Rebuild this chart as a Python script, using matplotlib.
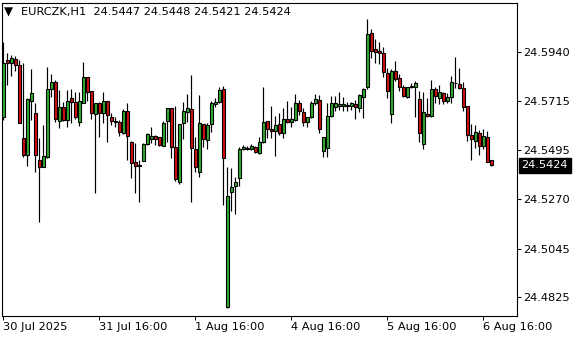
import numpy as np
import matplotlib
matplotlib.use("Agg")
import matplotlib.pyplot as plt

# EURCZK H1 candles, 30 Jul 16:00 .. 6 Aug 18:00
opens = [
    24.5643, 24.5903, 24.5891, 24.5907, 24.5881, 24.5547, 24.5471, 24.5718, 24.5661, 24.5448,
    24.5418, 24.5461, 24.5770, 24.5802, 24.5624, 24.5688, 24.5630, 24.5729, 24.5711, 24.5620,
    24.5709, 24.5825, 24.5762, 24.5658, 24.5706, 24.5661, 24.5718, 24.5645, 24.5620, 24.5620,
    24.5573, 24.5671, 24.5532, 24.5438, 24.5422, 24.5444, 24.5521, 24.5545, 24.5558, 24.5552,
    24.5513, 24.5627, 24.5684, 24.5506, 24.5350, 24.5615, 24.5668, 24.5679, 24.5498, 24.5392,
    24.5611, 24.5539, 24.5611, 24.5705, 24.5711, 24.5770, 24.4778, 24.5304, 24.5331, 24.5365,
    24.5497, 24.5497, 24.5497, 24.5508, 24.5479, 24.5529, 24.5626, 24.5588, 24.5582, 24.5611,
    24.5573, 24.5634, 24.5620, 24.5630, 24.5706, 24.5668, 24.5620, 24.5645, 24.5709, 24.5721,
    24.5491, 24.5502, 24.5649, 24.5691, 24.5695, 24.5694, 24.5694, 24.5695, 24.5703, 24.5686,
    24.5734, 24.5779, 24.6025, 24.5953, 24.5944, 24.5934, 24.5843, 24.5656, 24.5853, 24.5820,
    24.5779, 24.5734, 24.5786, 24.5782, 24.5726, 24.5520, 24.5658, 24.5650, 24.5771, 24.5729,
    24.5752, 24.5718, 24.5736, 24.5797, 24.5793, 24.5775, 24.5695, 24.5562, 24.5536, 24.5570,
    24.5513, 24.5554, 24.5447,
]
highs = [
    24.5987, 24.5934, 24.5926, 24.5922, 24.5903, 24.5891, 24.5730, 24.5861, 24.5706, 24.5547,
    24.5608, 24.5870, 24.5840, 24.5812, 24.5767, 24.5714, 24.5767, 24.5770, 24.5759, 24.5759,
    24.5894, 24.5826, 24.5763, 24.5707, 24.5714, 24.5756, 24.5719, 24.5664, 24.5643, 24.5630,
    24.5679, 24.5706, 24.5533, 24.5524, 24.5448, 24.5527, 24.5573, 24.5600, 24.5562, 24.5555,
    24.5626, 24.5685, 24.5685, 24.5694, 24.5613, 24.5714, 24.5747, 24.5835, 24.5554, 24.5744,
    24.5612, 24.5618, 24.5717, 24.5729, 24.5782, 24.5785, 24.5415, 24.5411, 24.5372, 24.5506,
    24.5517, 24.5513, 24.5521, 24.5510, 24.5554, 24.5782, 24.5627, 24.5694, 24.5649, 24.5664,
    24.5684, 24.5717, 24.5688, 24.5749, 24.5721, 24.5684, 24.5644, 24.5718, 24.5749, 24.5744,
    24.5553, 24.5706, 24.5741, 24.5741, 24.5756, 24.5736, 24.5714, 24.5714, 24.5721, 24.5749,
    24.5777, 24.6090, 24.6043, 24.5998, 24.5984, 24.5964, 24.5866, 24.5862, 24.5899, 24.5838,
    24.5790, 24.5782, 24.5797, 24.5808, 24.5762, 24.5759, 24.5732, 24.5812, 24.5782, 24.5790,
    24.5759, 24.5752, 24.5832, 24.5918, 24.5868, 24.5805, 24.5696, 24.5611, 24.5608, 24.5585,
    24.5589, 24.5580, 24.5448,
]
lows = [
    24.5630, 24.5790, 24.5831, 24.5855, 24.5615, 24.5463, 24.5421, 24.5630, 24.5395, 24.5168,
    24.5418, 24.5458, 24.5736, 24.5623, 24.5593, 24.5628, 24.5597, 24.5618, 24.5634, 24.5603,
    24.5706, 24.5717, 24.5635, 24.5300, 24.5552, 24.5615, 24.5532, 24.5608, 24.5600, 24.5559,
    24.5567, 24.5448, 24.5365, 24.5300, 24.5259, 24.5443, 24.5517, 24.5524, 24.5517, 24.5512,
    24.5512, 24.5532, 24.5456, 24.5354, 24.5339, 24.5544, 24.5623, 24.5259, 24.5395, 24.5372,
    24.5509, 24.5498, 24.5577, 24.5691, 24.5706, 24.5244, 24.4776, 24.5218, 24.5201, 24.5331,
    24.5494, 24.5494, 24.5494, 24.5481, 24.5478, 24.5528, 24.5547, 24.5547, 24.5467, 24.5562,
    24.5547, 24.5615, 24.5600, 24.5626, 24.5653, 24.5603, 24.5597, 24.5638, 24.5699, 24.5570,
    24.5463, 24.5463, 24.5646, 24.5671, 24.5676, 24.5671, 24.5671, 24.5676, 24.5634, 24.5668,
    24.5638, 24.5771, 24.5914, 24.5888, 24.5885, 24.5827, 24.5729, 24.5615, 24.5808, 24.5762,
    24.5736, 24.5729, 24.5777, 24.5645, 24.5529, 24.5498, 24.5645, 24.5645, 24.5706, 24.5702,
    24.5702, 24.5706, 24.5709, 24.5775, 24.5771, 24.5671, 24.5535, 24.5448, 24.5502, 24.5471,
    24.5498, 24.5438, 24.5421,
]
closes = [
    24.5891, 24.5891, 24.5911, 24.5881, 24.5615, 24.5471, 24.5725, 24.5752, 24.5471, 24.5418,
    24.5467, 24.5770, 24.5802, 24.5634, 24.5688, 24.5630, 24.5717, 24.5711, 24.5645, 24.5717,
    24.5825, 24.5756, 24.5661, 24.5706, 24.5664, 24.5718, 24.5653, 24.5626, 24.5626, 24.5574,
    24.5671, 24.5559, 24.5433, 24.5422, 24.5424, 24.5520, 24.5567, 24.5559, 24.5545, 24.5517,
    24.5618, 24.5684, 24.5509, 24.5361, 24.5612, 24.5671, 24.5684, 24.5502, 24.5418, 24.5615,
    24.5543, 24.5608, 24.5706, 24.5712, 24.5767, 24.5456, 24.5285, 24.5324, 24.5348, 24.5498,
    24.5508, 24.5504, 24.5512, 24.5483, 24.5532, 24.5620, 24.5588, 24.5582, 24.5608, 24.5573,
    24.5634, 24.5620, 24.5634, 24.5706, 24.5673, 24.5620, 24.5643, 24.5706, 24.5726, 24.5588,
    24.5552, 24.5649, 24.5706, 24.5706, 24.5702, 24.5703, 24.5700, 24.5706, 24.5691, 24.5744,
    24.5770, 24.6020, 24.5946, 24.5938, 24.5937, 24.5847, 24.5762, 24.5853, 24.5817, 24.5782,
    24.5741, 24.5779, 24.5782, 24.5797, 24.5570, 24.5668, 24.5649, 24.5771, 24.5741, 24.5756,
    24.5717, 24.5734, 24.5802, 24.5797, 24.5775, 24.5691, 24.5562, 24.5543, 24.5574, 24.5513,
    24.5558, 24.5441, 24.5424,
]

time_labels = ["30 Jul 2025", "31 Jul 16:00", "1 Aug 16:00", "4 Aug 16:00",
               "5 Aug 16:00", "6 Aug 16:00"]
price_ticks = [24.5940, 24.5715, 24.5495, 24.5270, 24.5045, 24.4825]
symbol = "EURCZK,H1"

BULL = "#2fae2f"
BEAR = "#d41010"
FS = 8.2

o = np.array(opens)
h = np.array(highs)
l = np.array(lows)
c = np.array(closes)
x = np.arange(len(o))

fig = plt.figure(figsize=(5.8, 3.4), dpi=100)
ax = fig.add_axes([2 / 580, 24 / 340, 515 / 580, 313.5 / 340])

# wicks
ax.vlines(x, l, h, colors="black", linewidth=0.85, zorder=2)

# bodies
colors = [BULL if cc >= oo else BEAR for oo, cc in zip(o, c)]
ax.bar(x, np.abs(c - o), bottom=np.minimum(o, c), width=0.75,
       color=colors, edgecolor="black", linewidth=0.8, zorder=3)

ax.set_xlim(-0.325, 128.425)
ax.set_ylim(24.47385, 24.61653)

# price scale on the right
ax.yaxis.tick_right()
ax.set_yticks(price_ticks)
ax.set_yticklabels([f"{p:.4f}" for p in price_ticks], fontsize=FS)
ax.tick_params(axis="y", length=3, width=0.75, pad=1.5, colors="black")

# time scale, one label every 24 bars
ax.set_xticks(x[::24][: len(time_labels)])
ax.set_xticklabels(time_labels, fontsize=FS, ha="left")
ax.tick_params(axis="x", length=3, width=0.75, pad=1.0, colors="black")

for sp in ax.spines.values():
    sp.set_linewidth(0.8)
    sp.set_color("black")

# current price tag
ax.annotate(f"{c[-1]:.4f}", xy=(1.0, c[-1]), xycoords=("axes fraction", "data"),
            xytext=(3.2, 0), textcoords="offset points", ha="left", va="center",
            fontsize=FS, color="white", annotation_clip=False,
            bbox=dict(boxstyle="square,pad=0.25", fc="black", ec="black"))

# chart header
fig.text(4 / 580, 1 - 12 / 340, "\u25bc", fontsize=8.5, va="center", ha="left")
fig.text(21 / 580, 1 - 12 / 340,
         f"{symbol}  {o[-1]:.4f} {h[-1]:.4f} {l[-1]:.4f} {c[-1]:.4f}",
         fontsize=FS, va="center", ha="left", color="black")

fig.savefig("out.png", dpi=100)
